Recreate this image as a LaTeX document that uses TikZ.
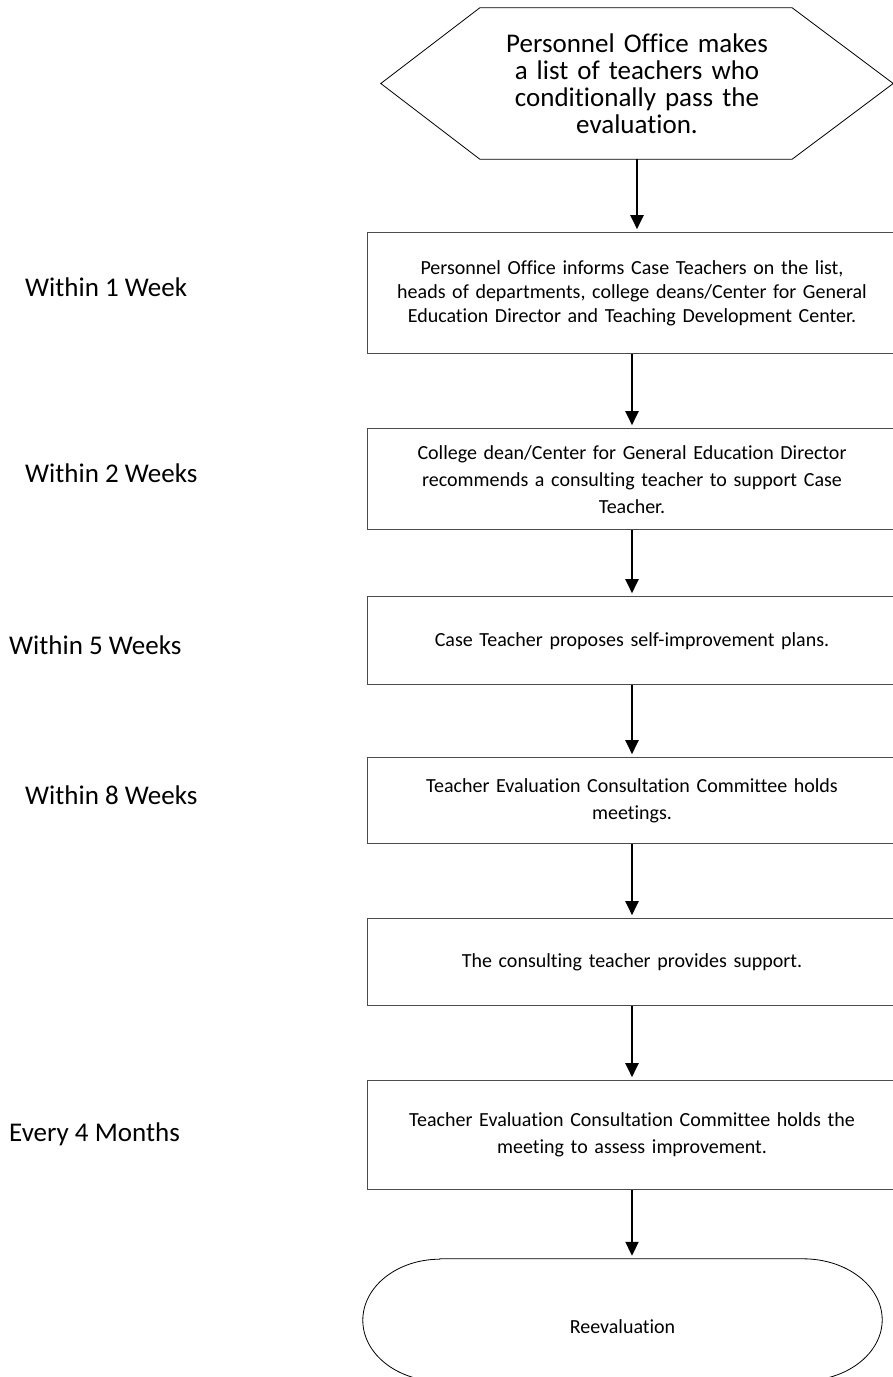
\documentclass[tikz,border=0pt]{standalone}
\usepackage{fontspec}
\setmainfont{Carlito}[Ligatures={NoCommon, NoContextual}]
\usetikzlibrary{positioning, arrows.meta}

\begin{document}
\begin{tikzpicture}[ x = 1pt, y = -1pt
                     , >={Triangle[width=13pt, length=14pt]}
                     , flow/.style = { ->, line width = 2pt, shorten > = 3pt }
                     , stepbox/.style = { rectangle
                                        , draw = black!70
                                        , line width = 1pt
                                        , minimum width = 529pt
                                        , text width = 510pt
                                        , align = center
                                        , inner sep = 0pt
                                        , font = \fontsize{20}{27}\selectfont }
                     , timelabel/.style = { anchor = west
                                          , inner sep = 0pt
                                          , text height = 18pt
                                          , text depth = 0pt
                                          , font = \fontsize{27}{32}\selectfont }
                     ]

  \useasboundingbox (0,0) rectangle (893,1377);

  \node (hex) [minimum width = 512pt, minimum height = 151pt, text width = 400pt,
               align = center, inner sep = 0pt,
               font = \fontsize{27}{27}\selectfont] at (637,83.5)
    {Personnel Office makes\\ a list of teachers who\\ conditionally pass the\\ evaluation.};
  \draw[line width = 0.8pt] (hex.west) -- ([xshift=99pt]hex.north west)
    -- ([xshift=-101pt]hex.north east) -- (hex.east)
    -- ([xshift=-101pt]hex.south east) -- ([xshift=99pt]hex.south west) -- cycle;

  \node (inform) [stepbox, minimum height = 121pt, font = \fontsize{20}{24}\selectfont,
                  below = 73pt of hex, xshift = -5pt]
    {Personnel Office informs Case Teachers on the list,\\ heads of departments, college deans/Center for General\\ Education Director and Teaching Development Center.};
  \node (dean) [stepbox, minimum height = 101pt, below = 74pt of inform]
    {College dean/Center for General Education Director\\ recommends a consulting teacher to support Case\\ Teacher.};
  \node (plans) [stepbox, minimum height = 88pt, below = 66pt of dean]
    {Case Teacher proposes self-improvement plans.};
  \node (meet) [stepbox, minimum height = 86pt, below = 72pt of plans]
    {Teacher Evaluation Consultation Committee holds\\ meetings.};
  \node (support) [stepbox, minimum height = 87pt, below = 74pt of meet]
    {The consulting teacher provides support.};
  \node (assess) [stepbox, minimum height = 109pt, below = 74pt of support]
    {Teacher Evaluation Consultation Committee holds the\\ meeting to assess improvement.};

  \node (reeval) [minimum width = 519pt, minimum height = 122pt, inner sep = 0pt,
                  text height = 26pt, text depth = 0pt,
                  font = \fontsize{20}{24}\selectfont] at (622.5,1320) {Reevaluation};
  \draw[line width = 0.8pt] ([xshift=77pt]reeval.north west) -- ([xshift=-79pt]reeval.north east)
    arc[start angle = 90, end angle = -90, x radius = 79pt, y radius = 61pt]
    -- ([xshift=77pt]reeval.south west)
    arc[start angle = 270, end angle = 90, x radius = 77pt, y radius = 61pt] -- cycle;

  \node (week1) [timelabel] at (25,287) {Within 1 Week};
  \node (week2) [timelabel] at (25,473) {Within 2 Weeks};
  \node (week5) [timelabel] at (9,645) {Within 5 Weeks};
  \node (week8) [timelabel] at (25,795) {Within 8 Weeks};
  \node (month4) [timelabel] at (9,1132) {Every 4 Months};

  \draw[flow] (hex.south) -- (hex.south |- inform.north);
  \draw[flow] (inform) -- (dean);
  \draw[flow] (dean) -- (plans);
  \draw[flow] (plans) -- (meet);
  \draw[flow] (meet) -- (support);
  \draw[flow] (support) -- (assess);
  \draw[flow] (assess.south) -- (assess.south |- reeval.north);

\end{tikzpicture}
\end{document}
